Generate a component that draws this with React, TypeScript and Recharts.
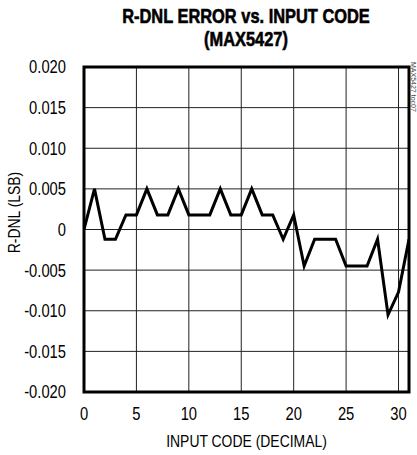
import React from 'react';
import { LineChart, Line, XAxis, YAxis, CartesianGrid, ReferenceArea } from 'recharts';

const inputCodes = [0, 1, 2, 3, 4, 5, 6, 7, 8, 9, 10, 11, 12, 13, 14, 15, 16, 17, 18, 19, 20, 21, 22, 23, 24, 25, 26, 27, 28, 29, 30, 31];
const rdnl = [
  0, 0.005, -0.0012, -0.0012, 0.0018, 0.0018, 0.005, 0.0018, 0.0018, 0.005, 0.0018, 0.0018, 0.0018, 0.005, 0.0018, 0.0018,
  0.005, 0.0018, 0.0018, -0.0012, 0.0018, -0.0045, -0.0012, -0.0012, -0.0012, -0.0045, -0.0045, -0.0045, -0.0012, -0.0105, -0.0077, -0.0012,
];
const xTicks = [0, 5, 10, 15, 20, 25, 30];
const yTicks = [-0.02, -0.015, -0.01, -0.005, 0, 0.005, 0.01, 0.015, 0.02];
const titleLines = ['R-DNL ERROR vs. INPUT CODE', '(MAX5427)'];
const xLabel = 'INPUT CODE (DECIMAL)';
const yLabel = 'R-DNL (LSB)';
const sideNote = 'MAX5427 toc07';

const data = inputCodes.map((c, i) => ({ code: c, value: rdnl[i] }));

const FONT = '"Liberation Sans", Arial, Helvetica, sans-serif';
const SQUEEZE = 0.82;

const fmtY = (v: number) => (v === 0 ? '0' : v.toFixed(3));

const XTick = (props: any) => {
  const { x, y, payload } = props;
  return (
    <g transform={`translate(${x},${y})`}>
      <text transform={`scale(${SQUEEZE},1)`} textAnchor="middle" dy="0.71em" fill="#000" fontSize={18} fontFamily={FONT}>
        {payload.value}
      </text>
    </g>
  );
};

const YTick = (props: any) => {
  const { x, y, payload } = props;
  return (
    <g transform={`translate(${x},${y})`}>
      <text transform={`scale(${SQUEEZE},1)`} textAnchor="end" dy="0.355em" fill="#000" fontSize={18} fontFamily={FONT}>
        {fmtY(payload.value)}
      </text>
    </g>
  );
};

export default function App() {
  return (
    <div style={{ position: 'absolute', left: 0, top: 0, width: 417, height: 455, background: '#fff', fontFamily: FONT, overflow: 'hidden' }}>
      <div
        style={{
          position: 'absolute',
          left: 46,
          top: 5,
          width: 400,
          textAlign: 'center',
          fontFamily: FONT,
          fontWeight: 'bold',
          fontSize: 20,
          lineHeight: '22.5px',
          color: '#000',
          WebkitTextStroke: '0.6px #000',
          transform: `scaleX(${SQUEEZE})`,
          transformOrigin: '200px 0',
        }}
      >
        {titleLines.map((t) => (
          <div key={t}>{t}</div>
        ))}
      </div>
      <div
        style={{
          position: 'absolute',
          left: 410,
          top: 62,
          writingMode: 'vertical-rl',
          fontFamily: FONT,
          fontSize: 7,
          lineHeight: '7px',
          color: '#444',
          whiteSpace: 'nowrap',
        }}
      >
        {sideNote}
      </div>
      <LineChart
        width={417}
        height={455}
        data={data}
        margin={{ top: 67, right: 8, bottom: 13, left: 0 }}
        style={{ position: 'absolute', left: 0, top: 0 }}
      >
        <CartesianGrid stroke="#222" strokeWidth={1} />
        <XAxis
          dataKey="code"
          type="number"
          domain={[0, 31]}
          ticks={xTicks}
          allowDataOverflow
          height={50}
          tickLine={false}
          axisLine={false}
          tickSize={0}
          tickMargin={15}
          tick={<XTick />}
          label={{
            content: (props: any) => {
              const vb = props.viewBox || {};
              const cx = (vb.x ?? 84) + (vb.width ?? 325) / 2;
              const cy = (vb.y ?? 392) + 55;
              return (
                <g transform={`translate(${cx},${cy})`}>
                  <text transform={`scale(${SQUEEZE},1)`} textAnchor="middle" fill="#000" fontSize={17} fontFamily={FONT}>
                    {xLabel}
                  </text>
                </g>
              );
            },
          }}
        />
        <YAxis
          type="number"
          domain={[-0.02, 0.02]}
          ticks={yTicks}
          allowDataOverflow
          width={84}
          tickLine={false}
          axisLine={false}
          tickSize={0}
          tickMargin={18}
          tick={<YTick />}
          label={{
            content: (props: any) => {
              const vb = props.viewBox || {};
              const cx = 20;
              const cy = (vb.y ?? 67) + (vb.height ?? 325) / 2 - 17;
              return (
                <g transform={`translate(${cx},${cy}) rotate(-90)`}>
                  <text transform={`scale(${SQUEEZE},1)`} textAnchor="middle" fill="#000" fontSize={17} fontFamily={FONT}>
                    {yLabel}
                  </text>
                </g>
              );
            },
          }}
        />
        <Line
          type="linear"
          dataKey="value"
          stroke="#000"
          strokeWidth={3}
          dot={false}
          isAnimationActive={false}
          strokeLinejoin="miter"
        />
        <ReferenceArea
          x1={0}
          x2={31}
          y1={-0.02}
          y2={0.02}
          fill="none"
          fillOpacity={0}
          stroke="#000"
          strokeWidth={3}
          ifOverflow="visible"
        />
      </LineChart>
    </div>
  );
}
